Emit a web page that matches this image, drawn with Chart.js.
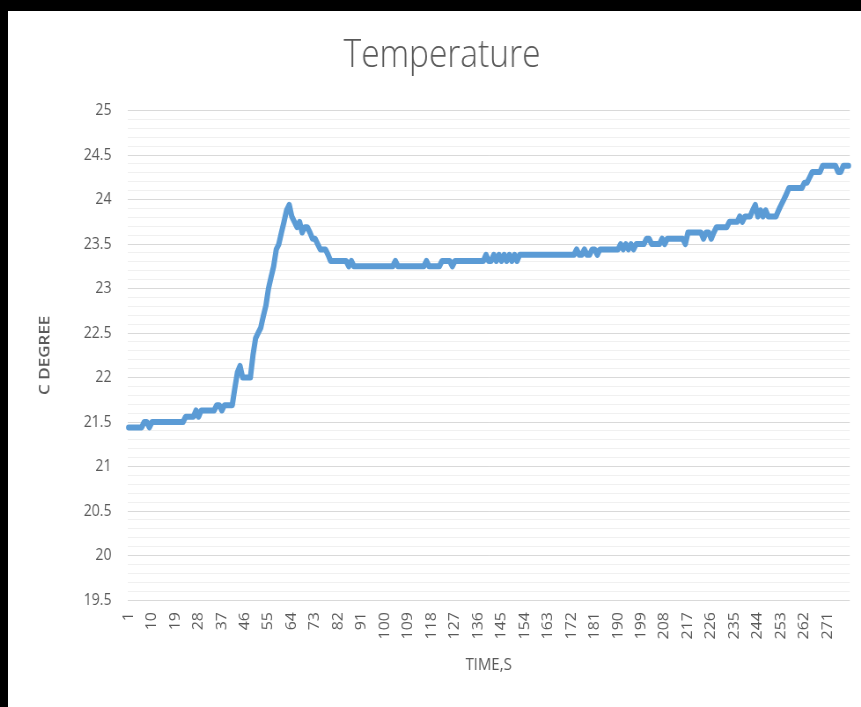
<!DOCTYPE html>
<html><head><meta charset="utf-8">
<script src="https://cdn.jsdelivr.net/npm/chart.js@4"></script>
<style>
html,body{margin:0;padding:0;background:#000;width:861px;height:707px;overflow:hidden}
#frame{position:absolute;left:8px;top:11px;width:868px;height:696px;background:#fff;overflow:hidden}
#wrap{position:absolute;left:0;top:0;width:986px;height:696px;transform:scaleX(0.8803);transform-origin:0 0}
#c{display:block;width:986px;height:696px}
</style></head><body>
<div id="frame"><div id="wrap"><canvas id="c" width="986" height="696"></canvas></div></div>
<script>
const chartTitle = 'Temperature';
const xAxisTitle = 'TIME,S';
const yAxisTitle = 'C DEGREE';
const pointCount = 279;
const categories = Array.from({length: pointCount}, (_, i) => String(i + 1));
const xTickLabels = ['1','10','19','28','37','46','55','64','73','82','91','100','109','118','127','136','145','154','163','172','181','190','199','208','217','226','235','244','253','262','271'];
const yTickLabels = ['19.5','20','20.5','21','21.5','22','22.5','23','23.5','24','24.5','25'];
const temperature = [
21.44,21.44,21.44,21.44,21.44,21.44,21.5,21.5,21.44,21.5,
21.5,21.5,21.5,21.5,21.5,21.5,21.5,21.5,21.5,21.5,
21.5,21.5,21.56,21.56,21.56,21.56,21.63,21.56,21.63,21.63,
21.63,21.63,21.63,21.63,21.69,21.69,21.63,21.69,21.69,21.69,
21.69,21.88,22.06,22.13,22.0,22.0,22.0,22.0,22.25,22.44,
22.5,22.56,22.69,22.81,23.0,23.13,23.25,23.44,23.5,23.63,
23.75,23.88,23.94,23.81,23.75,23.69,23.75,23.63,23.69,23.69,
23.63,23.56,23.56,23.5,23.44,23.44,23.44,23.38,23.31,23.31,
23.31,23.31,23.31,23.31,23.31,23.25,23.31,23.25,23.25,23.25,
23.25,23.25,23.25,23.25,23.25,23.25,23.25,23.25,23.25,23.25,
23.25,23.25,23.25,23.31,23.25,23.25,23.25,23.25,23.25,23.25,
23.25,23.25,23.25,23.25,23.25,23.31,23.25,23.25,23.25,23.25,
23.25,23.31,23.31,23.31,23.31,23.25,23.31,23.31,23.31,23.31,
23.31,23.31,23.31,23.31,23.31,23.31,23.31,23.31,23.38,23.31,
23.31,23.38,23.31,23.38,23.31,23.38,23.31,23.38,23.31,23.38,
23.31,23.38,23.38,23.38,23.38,23.38,23.38,23.38,23.38,23.38,
23.38,23.38,23.38,23.38,23.38,23.38,23.38,23.38,23.38,23.38,
23.38,23.38,23.38,23.44,23.38,23.38,23.44,23.38,23.38,23.44,
23.44,23.38,23.44,23.44,23.44,23.44,23.44,23.44,23.44,23.44,
23.5,23.44,23.5,23.44,23.5,23.44,23.5,23.5,23.5,23.5,
23.56,23.56,23.5,23.5,23.5,23.5,23.56,23.5,23.56,23.56,
23.56,23.56,23.56,23.56,23.56,23.5,23.63,23.63,23.63,23.63,
23.63,23.63,23.56,23.63,23.63,23.56,23.63,23.69,23.69,23.69,
23.69,23.69,23.75,23.75,23.75,23.75,23.81,23.75,23.81,23.81,
23.81,23.88,23.94,23.81,23.88,23.81,23.88,23.81,23.81,23.81,
23.81,23.88,23.94,24.0,24.06,24.13,24.13,24.13,24.13,24.13,
24.13,24.19,24.19,24.25,24.31,24.31,24.31,24.31,24.38,24.38,
24.38,24.38,24.38,24.38,24.31,24.31,24.38,24.38,24.38
];

const textColor = '#595959';
const fontFamily = "'Open Sans', 'Liberation Sans', sans-serif";

const centerTitle = {
  id: 'centerTitle',
  afterLayout(chart) {
    const t = chart.titleBlock;
    if (t) { t.left = 0; t.right = chart.width; t.width = chart.width; }
  }
};

new Chart(document.getElementById('c'), {
  type: 'line',
  plugins: [centerTitle],
  data: {
    labels: categories,
    datasets: [{
      data: temperature,
      borderColor: '#5b9bd5',
      borderWidth: 6,
      pointRadius: 0,
      tension: 0,
      borderJoinStyle: 'round',
      borderCapStyle: 'round',
      fill: false
    }]
  },
  options: {
    responsive: false,
    maintainAspectRatio: false,
    animation: false,
    devicePixelRatio: 1,
    layout: { padding: { left: 0, right: 23.8, top: 0, bottom: 0 } },
    plugins: {
      legend: { display: false },
      tooltip: { enabled: false },
      title: {
        display: true,
        text: chartTitle,
        color: textColor,
        font: { family: fontFamily, size: 38, weight: '300' },
        padding: { top: 22, bottom: 32 }
      }
    },
    scales: {
      x: {
        type: 'category',
        offset: true,
        grid: { display: false, drawTicks: false },
        border: { display: false },
        ticks: {
          autoSkip: false,
          maxRotation: 90,
          minRotation: 90,
          padding: 12,
          color: textColor,
          font: { family: fontFamily, size: 16 },
          callback: function (v) {
            const l = this.getLabelForValue(v);
            return xTickLabels.includes(l) ? l : '';
          }
        },
        title: {
          display: true,
          text: xAxisTitle,
          color: textColor,
          font: { family: fontFamily, size: 17, weight: '400' },
          padding: { top: 0, bottom: 32 }
        },
        afterFit: function (s) { s.height = 107; }
      },
      y: {
        min: 19.5,
        max: 25,
        border: { display: false },
        grid: {
          drawTicks: false,
          lineWidth: 1,
          color: function (ctx) {
            const r = Math.round(ctx.tick.value * 10);
            return r % 5 === 0 ? '#d9d9d9' : '#f0f0f0';
          }
        },
        ticks: {
          stepSize: 0.1,
          autoSkip: false,
          padding: 18,
          color: textColor,
          font: { family: fontFamily, size: 16 },
          callback: function (v) {
            const r = Math.round(v * 10);
            if (r % 5 !== 0) return '';
            const s = String(r / 10);
            return yTickLabels.includes(s) ? s : '';
          }
        },
        title: {
          display: true,
          text: yAxisTitle,
          color: textColor,
          font: { family: fontFamily, size: 17, weight: '600' },
          padding: { top: 32, bottom: 0 }
        },
        afterFit: function (s) { s.width = 135.6; }
      }
    }
  }
});
</script>
</body></html>
